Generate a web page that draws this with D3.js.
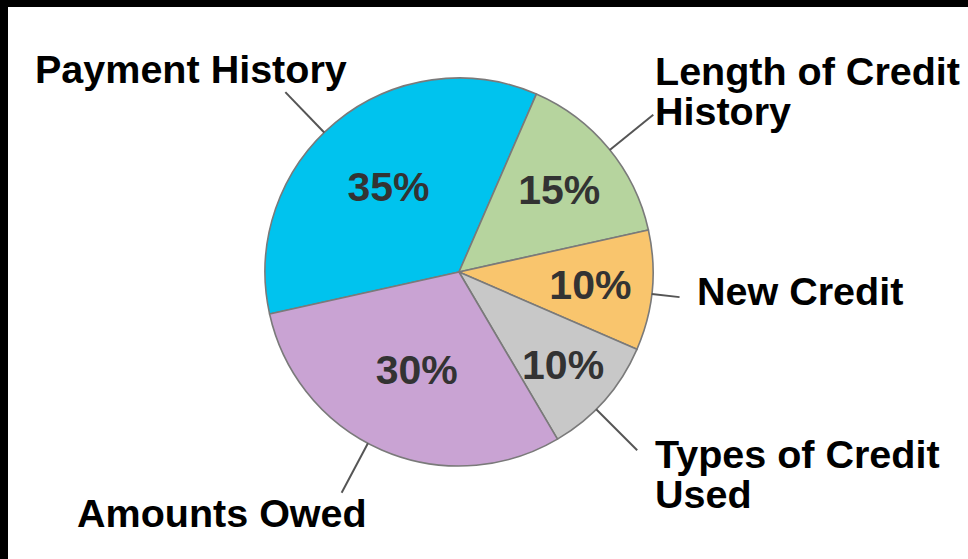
<!DOCTYPE html>
<html>
<head>
<meta charset="utf-8">
<script src="https://cdn.jsdelivr.net/npm/d3@7"></script>
<style>
  html, body { margin: 0; padding: 0; background: #fff; }
  svg { display: block; }
</style>
</head>
<body>
<script>
// ---- data ----
const categories = ["Payment History", "Length of Credit History", "New Credit", "Types of Credit Used", "Amounts Owed"];
const values = [35, 15, 10, 10, 30];
const valueLabels = ["35%", "15%", "10%", "10%", "30%"];
const labelLines = [["Payment History"], ["Length of Credit", "History"], ["New Credit"], ["Types of Credit", "Used"], ["Amounts Owed"]];
const colors = ["#00c3ee", "#b6d49e", "#f9c56d", "#c8c8c8", "#c9a3d3"];

// ---- layout ----
const W = 968, H = 559;
const cx = 459, cy = 272, R = 194;
const startDeg = -102.5;
// per-slice layout: radius of percentage text, leader angle offset (deg), leader outer radius, label anchor
const layout = [
  { pr: 111, dA: -4.5, lr: 250, x: 35,  y: 83 },
  { pr: 130, dA: 0.5,  lr: 250, x: 655, y: 85 },
  { pr: 132, dA: 1,    lr: 222, x: 697, y: 305 },
  { pr: 139, dA: 3.5,  lr: 252, x: 655, y: 468 },
  { pr: 106, dA: 4.5,  lr: 250, x: 77,  y: 527 }
];

const svg = d3.select("body").append("svg").attr("width", W).attr("height", H);
svg.append("rect").attr("width", W).attr("height", H).attr("fill", "#fff");
// black frame (top and left)
svg.append("rect").attr("x", 0).attr("y", 0).attr("width", W).attr("height", 7).attr("fill", "#000");
svg.append("rect").attr("x", 0).attr("y", 0).attr("width", 8).attr("height", H).attr("fill", "#000");

const rad = d => d * Math.PI / 180;
const pie = d3.pie().sort(null).value(d => d)
  .startAngle(rad(startDeg)).endAngle(rad(startDeg + 360));
const arcs = pie(values);
const arc = d3.arc().innerRadius(0).outerRadius(R);

const g = svg.append("g").attr("transform", `translate(${cx},${cy})`);

g.selectAll("path.slice").data(arcs).join("path")
  .attr("class", "slice")
  .attr("d", arc)
  .attr("fill", (d, i) => colors[i])
  .attr("stroke", "#7a7a7a")
  .attr("stroke-width", 1.6)
  .attr("stroke-linejoin", "round");

const mid = d => (d.startAngle + d.endAngle) / 2;

// percentage labels
g.selectAll("text.pct").data(arcs).join("text")
  .attr("class", "pct")
  .attr("x", (d, i) => Math.sin(mid(d)) * layout[i].pr)
  .attr("y", (d, i) => -Math.cos(mid(d)) * layout[i].pr)
  .attr("dy", "0.36em")
  .attr("text-anchor", "middle")
  .attr("font-family", "Liberation Sans, Arial, sans-serif")
  .attr("font-weight", "bold")
  .attr("font-size", 41)
  .attr("fill", "#333")
  .text((d, i) => valueLabels[i]);

// leader lines
g.selectAll("line.leader").data(arcs).join("line")
  .attr("class", "leader")
  .attr("x1", (d, i) => Math.sin(mid(d) + rad(layout[i].dA)) * R)
  .attr("y1", (d, i) => -Math.cos(mid(d) + rad(layout[i].dA)) * R)
  .attr("x2", (d, i) => Math.sin(mid(d) + rad(layout[i].dA)) * layout[i].lr)
  .attr("y2", (d, i) => -Math.cos(mid(d) + rad(layout[i].dA)) * layout[i].lr)
  .attr("stroke", "#555")
  .attr("stroke-width", 2);

// category labels
const lbl = svg.selectAll("text.cat").data(categories).join("text")
  .attr("class", "cat")
  .attr("x", (d, i) => layout[i].x)
  .attr("y", (d, i) => layout[i].y)
  .attr("font-family", "Liberation Sans, Arial, sans-serif")
  .attr("font-weight", "bold")
  .attr("font-size", 39.5)
  .attr("fill", "#000");
lbl.each(function(d, i) {
  const t = d3.select(this);
  labelLines[i].forEach((line, j) => {
    t.append("tspan").attr("x", layout[i].x).attr("dy", j === 0 ? 0 : 40).text(line);
  });
});
</script>
</body>
</html>
